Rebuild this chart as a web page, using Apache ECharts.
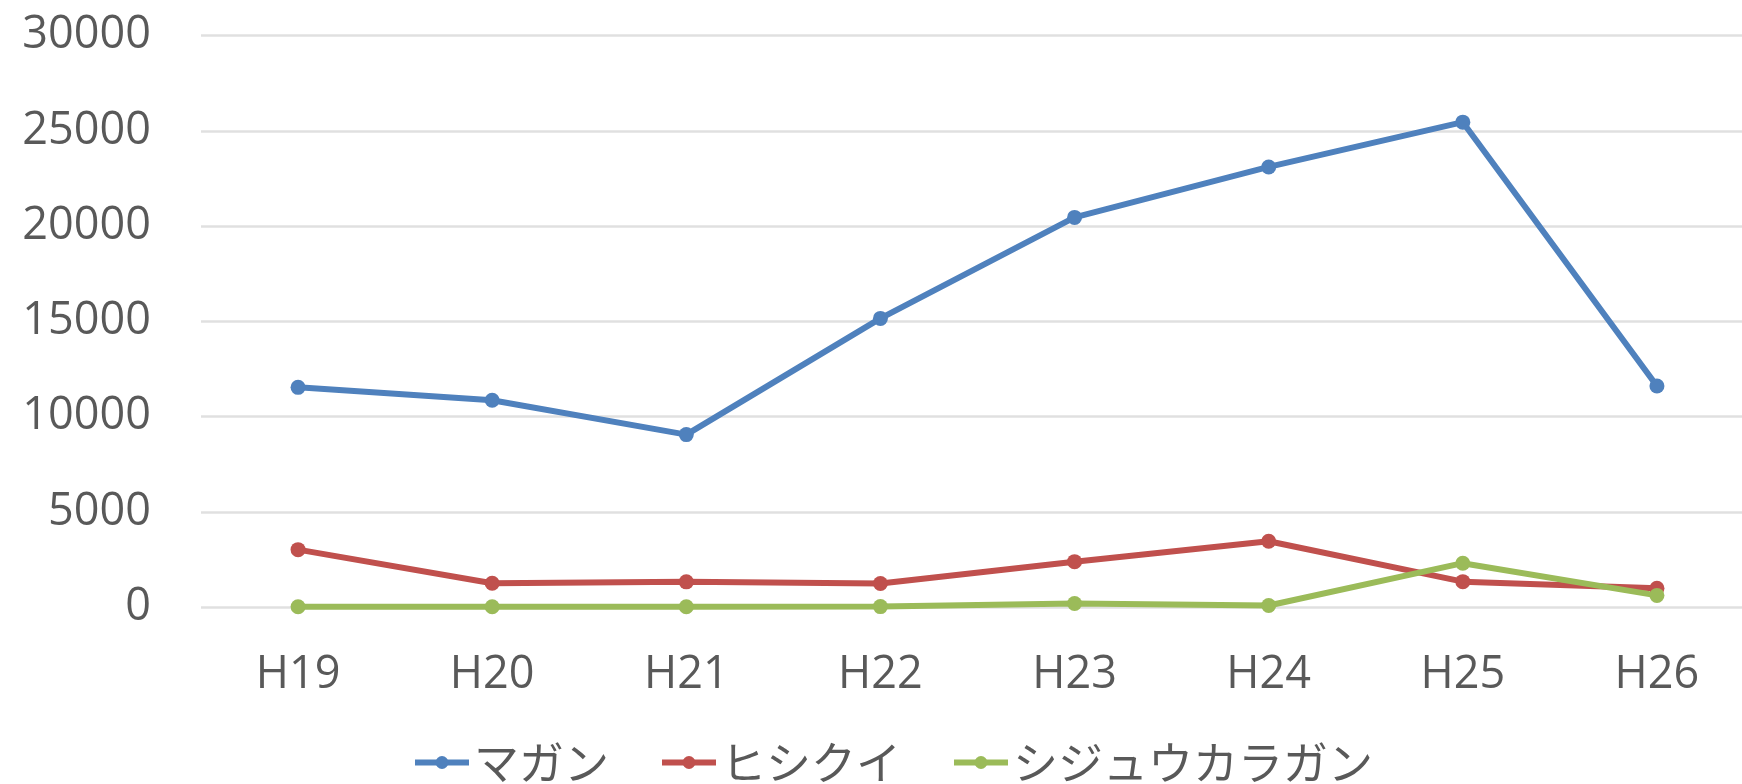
<!DOCTYPE html>
<html><head><meta charset="utf-8">
<script src="https://cdn.jsdelivr.net/npm/echarts@6/dist/echarts.min.js"></script>
<style>html,body{margin:0;padding:0;background:#fff;overflow:hidden;width:1742px;height:784px}#c{width:1754px;height:784px}</style>
</head><body><div id="c"></div>
<script>
const categories = ['H19','H20','H21','H22','H23','H24','H25','H26'];
const magan = [11530, 10850, 9050, 15150, 20450, 23100, 25450, 11600];
const hishikui = [3010, 1250, 1320, 1230, 2380, 3450, 1330, 980];
const shijukara = [10, 10, 10, 20, 180, 80, 2300, 610];
const yTicks = [0, 5000, 10000, 15000, 20000, 25000, 30000];

const chart = echarts.init(document.getElementById('c'));
const font = "'Open Sans', 'Noto Sans CJK JP', sans-serif";
function s(name, data, color){
  return {name, type:'line', data, symbol:'circle', symbolSize:15,
    lineStyle:{width:6,color}, itemStyle:{color}};
}
chart.setOption({
  animation:false,
  color:['#4F81BD','#C0504D','#9BBB59'],
  grid:{left:201, right:0, top:35.5, height:571.5},
  legend:{left:407, top:735, itemWidth:54, itemHeight:16, itemGap:50,
    lineStyle:{width:6},
    textStyle:{fontFamily:"'Noto Sans CJK JP', sans-serif", fontSize:45, color:'#595959'}},
  xAxis:{type:'category', data:categories, boundaryGap:true,
    axisLine:{show:false}, axisTick:{show:false},
    axisLabel:{fontFamily:font, fontSize:45, color:'#595959', margin:46}},
  yAxis:{type:'value', min:yTicks[0], max:yTicks[yTicks.length-1], interval:5000,
    axisLine:{show:false}, axisTick:{show:false},
    splitLine:{lineStyle:{color:'#e0e0e0', width:2.5}},
    axisLabel:{fontFamily:font, fontSize:45, color:'#595959', margin:50,
      formatter:function(v){return String(v);}}},
  series:[s('マガン',magan,'#4F81BD'), s('ヒシクイ',hishikui,'#C0504D'), s('シジュウカラガン',shijukara,'#9BBB59')]
});
</script></body></html>
